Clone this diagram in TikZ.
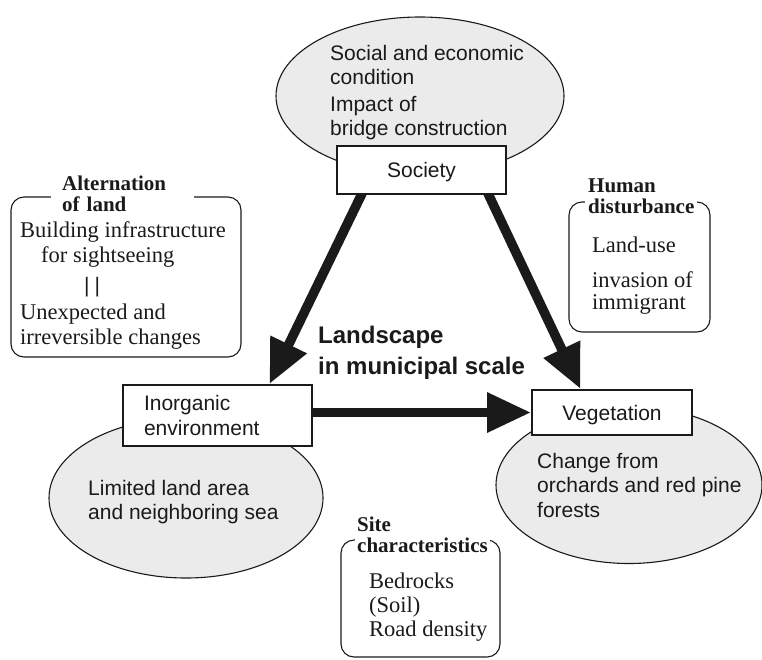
\documentclass[tikz,border=0pt]{standalone}
\usepackage{fontspec}
\setmainfont{Liberation Sans}
\newfontfamily\tnr{Liberation Serif}
\usetikzlibrary{arrows.meta,calc,shapes.geometric}
\pgfdeclarelayer{back}
\pgfdeclarelayer{mid}
\pgfsetlayers{back,mid,main}
\definecolor{ink}{HTML}{1A1A1A}
\definecolor{ovalgray}{HTML}{EBEBEB}
\begin{document}
\begin{tikzpicture}[x=1pt,y=-1pt,
  oval/.style={ellipse, draw=ink, line width=1.1pt, fill=ovalgray, inner sep=0pt},
  factor/.style={draw=ink, line width=2pt, fill=white, inner sep=0pt, text=ink,
    font=\fontsize{21}{25}\selectfont},
  sanstext/.style={font=\fontsize{21}{24}\selectfont, text=ink, inner sep=0pt,
    align=left, anchor=north west},
  seriftext/.style={font=\tnr\fontsize{22.5}{25}\selectfont, text=ink, inner sep=0pt,
    align=left, anchor=north west},
  header/.style={font=\tnr\bfseries\fontsize{21}{21}\selectfont, text=ink, fill=white,
    align=left, anchor=north west, inner ysep=2pt},
  panel/.style={draw=ink, line width=1.1pt, rounded corners=13pt, inner sep=0pt},
  flow/.style={draw=ink, line width=9.5pt, -{Triangle[length=44pt,width=38pt]}},
]
\useasboundingbox (0,0) rectangle (762,659);

% ---- ovals holding the descriptions of each factor
\begin{pgfonlayer}{back}
  \node[oval, minimum width=288pt, minimum height=158pt] (socoval) at (420,96) {};
  \node[oval, minimum width=274pt, minimum height=160pt] (inoval) at (186,498) {};
  \node[oval, minimum width=266pt, minimum height=157pt] (vegoval) at (629,485) {};
\end{pgfonlayer}

\node[sanstext] (soctext) at (330,45)
  {Social and economic\\condition\\[3pt]Impact of\\bridge construction};
\node[sanstext] (intext) at (88,480) {Limited land area\\and neighboring sea};
\node[sanstext, font=\fontsize{21}{24.5}\selectfont] (vegtext) at (537,453)
  {Change from\\orchards and red pine\\forests};

% ---- the three factors
\node[factor, text depth=0pt, minimum width=169pt, minimum height=48pt] (soc)
  at (421.5,170) {Society};
\node[factor, minimum width=189pt, minimum height=61pt, text width=147pt, align=left]
  (inorg) at (217.5,415.5) {Inorganic\\environment};
\node[factor, text depth=0pt, minimum width=160pt, minimum height=45pt] (veg)
  at (612,412.5) {Vegetation};

% ---- influences between the factors
\begin{pgfonlayer}{mid}
  \draw[flow, shorten <=-6pt] ($(soc.south west)!0.148!(soc.south east)$)
    -- ($(inorg.north west)!0.772!(inorg.north east)$);
  \draw[flow, shorten <=-6pt] ($(soc.south west)!0.893!(soc.south east)$)
    -- ($(veg.north west)!0.306!(veg.north east)$);
  \draw[flow] (inorg.east |- veg.west) -- (veg.west);
\end{pgfonlayer}

\node[sanstext, font=\bfseries\fontsize{24}{31}\selectfont] (title) at (318,326)
  {Landscape\\in municipal scale};

% ---- side panels
\node[panel, minimum width=230pt, minimum height=160pt] (alt) at (126,277) {};
\node[header, inner xsep=11pt, text width=121pt] (althdr) at (51,174)
  {Alternation\\of land};
\node[seriftext] (alttop) at (20,221)
  {Building infrastructure\\\hspace*{21pt}for sightseeing};
\node[inner sep=0pt, text=ink, font=\fontsize{21}{24}\selectfont] (altbar) at (92,287)
  {|\kern5pt|};
\node[seriftext] (altbot) at (20,304) {Unexpected and\\irreversible changes};

\node[panel, minimum width=141pt, minimum height=130pt] (hum) at (639.5,267) {};
\node[header, inner xsep=3pt, text width=106pt] (humhdr) at (585,177)
  {Human\\disturbance};
\node[seriftext, font=\tnr\fontsize{22.5}{22}\selectfont] (humtext) at (592,237)
  {Land-use\\[13pt]invasion of\\immigrant};

\node[panel, minimum width=159pt, minimum height=117pt] (site) at (420.5,598.5) {};
\node[header, inner xsep=2pt, text width=131pt] (sitehdr) at (355,515)
  {Site\\characteristics};
\node[seriftext, font=\tnr\fontsize{22.5}{24}\selectfont] (sitetext) at (369,573)
  {Bedrocks\\(Soil)\\Road density};
\end{tikzpicture}
\end{document}
